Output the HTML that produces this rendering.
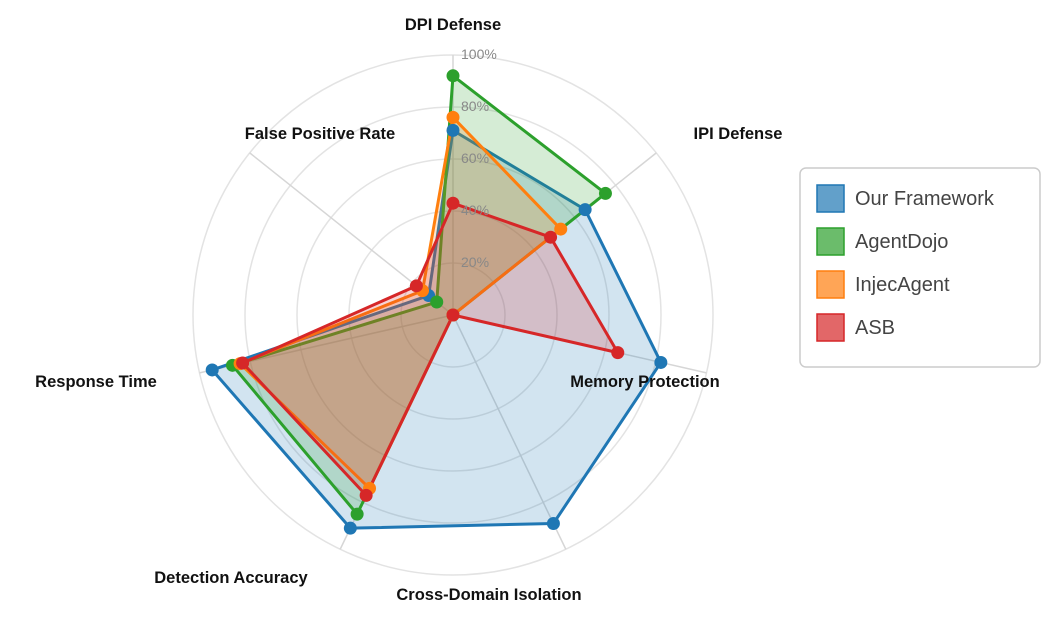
<!DOCTYPE html>
<html><head><meta charset="utf-8"><style>
body{margin:0;background:#fff;font-family:"Liberation Sans",Arial,sans-serif}
</style></head><body>
<svg id="chart" width="1043" height="612" xmlns="http://www.w3.org/2000/svg"></svg>
<script>
const axes=["DPI Defense","IPI Defense","Memory Protection","Cross-Domain Isolation","Detection Accuracy","Response Time","False Positive Rate"];
const seriesNames=["Our Framework","AgentDojo","InjecAgent","ASB"];
const ourFramework=[0.71,0.65,0.82,0.89,0.91,0.95,0.12];
const agentDojo=[0.92,0.75,0,0,0.85,0.87,0.08];
const injecAgent=[0.76,0.53,0,0,0.74,0.84,0.15];
const asb=[0.43,0.48,0.65,0,0.77,0.83,0.18];
const ticks=["20%","40%","60%","80%","100%"];
const colors=["#1f77b4","#2ca02c","#ff7f0e","#d62728"];
const NS="http://www.w3.org/2000/svg";
const svg=document.getElementById('chart');
const cx=453,cy=315,R=260;
function pt(i,v){const a=i*2*Math.PI/axes.length;return [cx+R*v*Math.sin(a),cy-R*v*Math.cos(a)];}
function mk(tag,attrs,parent){const e=document.createElementNS(NS,tag);for(const k in attrs)e.setAttribute(k,attrs[k]);(parent||svg).appendChild(e);return e;}
ticks.forEach((t,k)=>{
  const c=mk('circle',{cx:cx,cy:cy,r:R*(k+1)/ticks.length,fill:'none',stroke:'#e3e3e3','stroke-width':1.5});
  
  
});
axes.forEach((a,i)=>{
  const [x,y]=pt(i,1);
  const l=mk('line',{x1:cx,y1:cy,x2:x,y2:y,stroke:'#d6d6d6','stroke-width':1.5});
  
  
});
const allData=[ourFramework,agentDojo,injecAgent,asb];
allData.forEach((d,s)=>{
  const pts=d.map((v,i)=>pt(i,v).join(',')).join(' ');
  const p=mk('polygon',{points:pts,fill:colors[s],'fill-opacity':0.2,stroke:colors[s],'stroke-width':3,'stroke-linejoin':'round'});
  
  
});
allData.forEach((d,s)=>{
  d.forEach((v,i)=>{
    const [x,y]=pt(i,v);
    const c=mk('circle',{cx:x,cy:y,r:6.5,fill:colors[s]});
    
    
  });
});
ticks.forEach((t,k)=>{
  const tx=mk('text',{x:cx+8,y:cy-R*(k+1)/ticks.length+4,'font-size':14,fill:'#888'});
  tx.textContent=t;
  
  
});
const labelPos=[[453,30],[738,139],[645,387],[489,600],[231,583],[96,387],[320,139]];
axes.forEach((a,i)=>{
  const [x,y]=labelPos[i];
  const tx=mk('text',{x:x,y:y,'font-size':16.5,'font-weight':'bold','text-anchor':'middle',fill:'#111'});
  tx.textContent=a;
  
  
});
const lg=mk('rect',{x:800,y:168,width:240,height:199,rx:6,fill:'#fff',stroke:'#ccc','stroke-width':1.5});


seriesNames.forEach((n,s)=>{
  const y=198+s*43;
  const r=mk('rect',{x:817,y:y-13,width:27,height:27,fill:colors[s],'fill-opacity':0.7,stroke:colors[s],'stroke-width':1.5});
  
  
  const t=mk('text',{x:855,y:y+7,'font-size':20,fill:'#444'});
  t.textContent=n;
  
  
});
</script>
</body></html>
